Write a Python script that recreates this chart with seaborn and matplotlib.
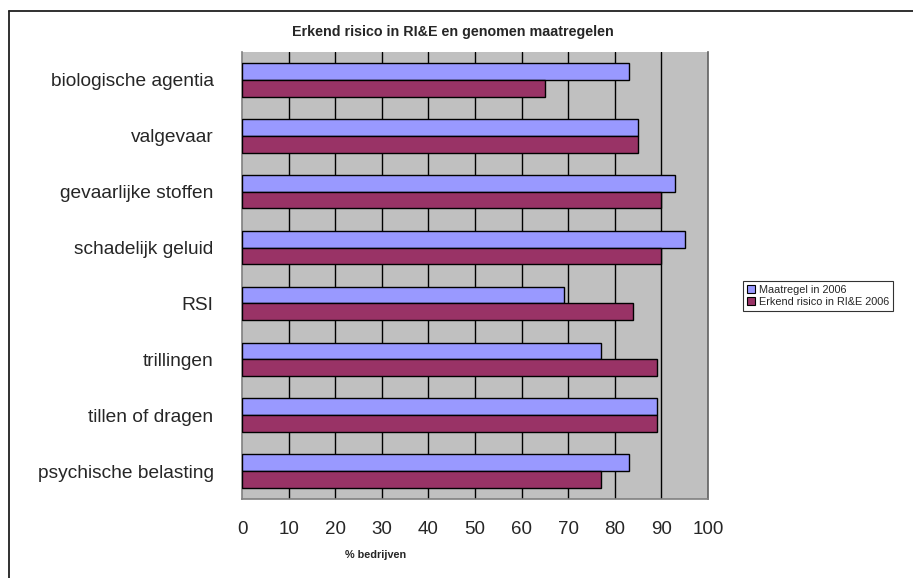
import matplotlib
matplotlib.use("Agg")
import matplotlib.pyplot as plt
import seaborn as sns
import pandas as pd
from matplotlib.lines import Line2D
from matplotlib.patches import Patch

categories = ["biologische agentia", "valgevaar", "gevaarlijke stoffen", "schadelijk geluid",
              "RSI", "trillingen", "tillen of dragen", "psychische belasting"]
maatregel_2006 = [83, 85, 93, 95, 69, 77, 89, 83]
erkend_risico_2006 = [65, 85, 90, 90, 84, 89, 89, 77]
series_names = ["Maatregel in 2006", "Erkend risico in RI&E 2006"]
x_ticks = [0, 10, 20, 30, 40, 50, 60, 70, 80, 90, 100]

sns.set_style("white")
plt.rcParams['font.family'] = ['Liberation Sans', 'DejaVu Sans']

df = pd.DataFrame({
    "categorie": categories * 2,
    "waarde": maatregel_2006 + erkend_risico_2006,
    "reeks": [series_names[0]] * len(categories) + [series_names[1]] * len(categories),
})

colors = ["#9999FF", "#993366"]

fig = plt.figure(figsize=(9.13, 5.78), dpi=100)
ax = fig.add_axes([242/913, 1 - 499/578, (708-242)/913, (499-52)/578])

sns.barplot(data=df, x="waarde", y="categorie", hue="reeks", order=categories,
            hue_order=series_names, palette=colors, width=0.6, dodge=True,
            edgecolor="black", linewidth=1.0, saturation=1, ax=ax, legend=False, zorder=3)

ax.set_facecolor("#C0C0C0")
ax.set_xlim(0, 100)
ax.set_xticks(x_ticks)
ax.set_xticklabels([str(t) for t in x_ticks], fontsize=13.5)
ax.tick_params(axis='x', length=10, color='#A0A0A0', width=1, pad=6)
ax.tick_params(axis='y', length=11, color='#A0A0A0', width=1, labelsize=13.8, pad=9.5)
ax.set_xlabel("")
ax.set_ylabel("")
for t in x_ticks[1:-1]:
    ax.axvline(t, color="black", linewidth=1.0, zorder=1)
for side in ["left", "bottom", "right"]:
    ax.spines[side].set_visible(True)
    ax.spines[side].set_color("#808080")
    ax.spines[side].set_linewidth(1.2)
ax.spines["top"].set_visible(False)
ax.spines["right"].set_color("#606060")

fig.text(453/913, 1 - 32/578, "Erkend risico in RI&E en genomen maatregelen",
         ha="center", va="center", fontsize=10.3, fontweight="bold")
fig.text(376/913, 1 - 555/578, "% bedrijven", ha="center", va="center",
         fontsize=7.8, fontweight="bold")

handles = [Patch(facecolor=c, edgecolor="black", linewidth=0.8) for c in colors]
leg = fig.legend(handles, series_names, loc="upper left",
                 bbox_to_anchor=(743/913, 1 - 281/578), fontsize=7.8, frameon=True,
                 fancybox=False, edgecolor="black", handlelength=0.8, handleheight=0.8,
                 handletextpad=0.3, borderpad=0.35, labelspacing=0.2, borderaxespad=0)
leg.get_frame().set_linewidth(0.8)

# figure border (left and top)
fig.add_artist(Line2D([9/913, 9/913], [0, 1 - 11/578], transform=fig.transFigure,
                      color="#202020", linewidth=1.3))
fig.add_artist(Line2D([9/913, 1], [1 - 11/578, 1 - 11/578], transform=fig.transFigure,
                      color="#202020", linewidth=1.3))

fig.savefig("out.png", dpi=100)
